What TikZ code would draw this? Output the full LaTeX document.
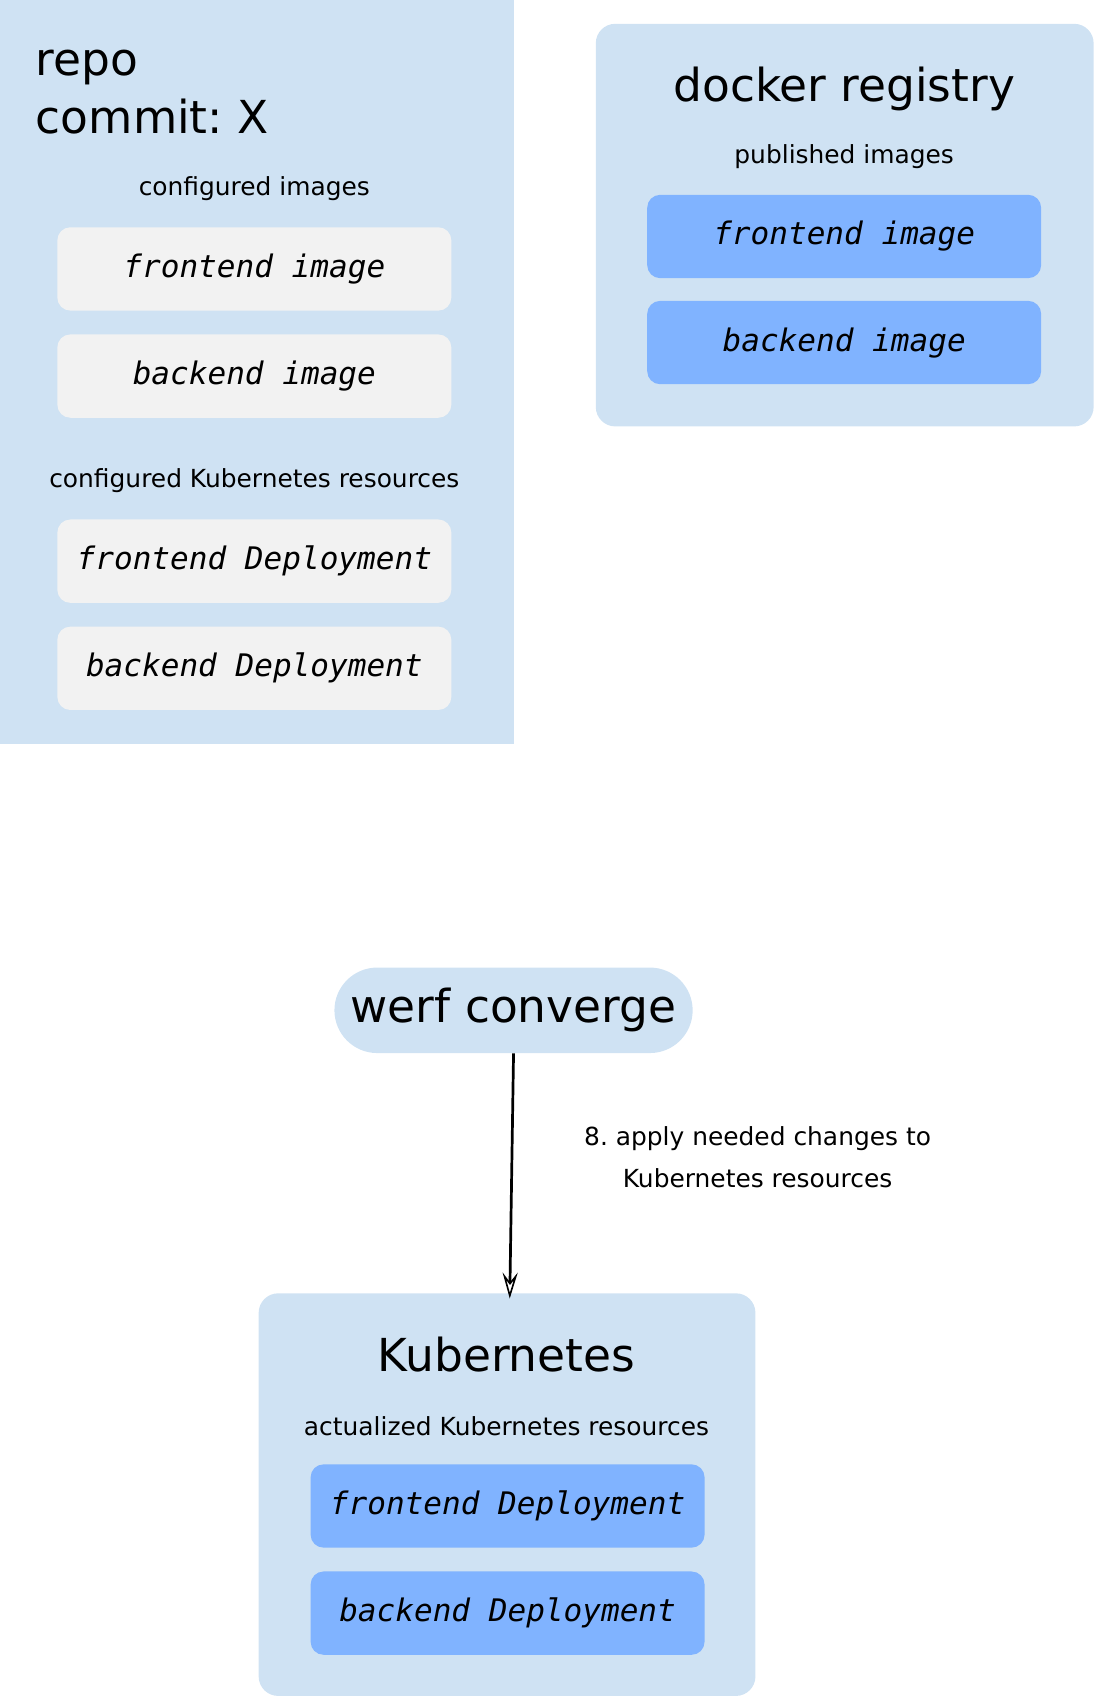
\documentclass[tikz,border=0pt]{standalone}
\usepackage{fontspec}
\setmainfont{DejaVu Sans}
\setmonofont{DejaVu Sans Mono}
\usepackage{tikz}
\usetikzlibrary{%
  arrows.meta%
}
\frenchspacing
\definecolor{panelblue}{HTML}{CFE2F3}
\definecolor{cfggray}{HTML}{F2F2F2}
\definecolor{pubblue}{HTML}{80B3FF}
\tikzset{>=latex,%
  panel/.style={fill=panelblue,rounded corners=18pt,inner sep=0pt},
  item/.style={rounded corners=12pt,minimum width=364pt,minimum height=77pt,
    inner sep=0pt,font=\fontsize{28.7}{34}\selectfont\ttfamily\itshape},
  cfgitem/.style={item,fill=cfggray},
  pubitem/.style={item,fill=pubblue},
  bigtext/.style={font=\fontsize{42}{53}\selectfont,inner sep=0pt},
  smalltext/.style={font=\fontsize{23}{39}\selectfont,inner sep=0pt}}

\begin{document}
\begin{tikzpicture}[x=1pt,y=-1pt]
      \useasboundingbox (0,0) rectangle (1011,1568);
      % repo
      \node[panel,sharp corners,minimum width=475pt,minimum height=687pt]
        (repo) at (237.5,343.5) {};
      \node[bigtext,anchor=base west] (reponame) at (33,70) {repo};
      \node[bigtext,anchor=base west] (commit) at (33,123) {commit: X};
      \node[smalltext] (cfgimages) at (235,174) {configured images};
      \node[cfgitem] (cfgfront) at (235,248.5) {frontend image};
      \node[cfgitem] (cfgback) at (235,347.5) {backend image};
      \node[smalltext] (cfgres) at (235,444) {configured Kubernetes resources};
      \node[cfgitem] (cfgfrontdep) at (235,518.5) {frontend Deployment};
      \node[cfgitem] (cfgbackdep) at (235,617.5) {backend Deployment};
      % docker registry
      \node[panel,minimum width=460pt,minimum height=372pt]
        (registry) at (780.5,208) {};
      \node[bigtext] (registryname) at (780,82) {docker registry};
      \node[smalltext] (pubimages) at (780,145) {published images};
      \node[pubitem] (pubfront) at (780,218.5) {frontend image};
      \node[pubitem] (pubback) at (780,316.5) {backend image};
      % werf converge
      \node[bigtext,fill=panelblue,rounded corners=39.5pt,minimum width=331pt,
        minimum height=79pt] (werf) at (474.5,933.5) {werf converge};
      % Kubernetes
      \node[panel,minimum width=459pt,minimum height=372pt]
        (k8s) at (468.5,1381) {};
      \node[bigtext] (k8sname) at (468,1252) {Kubernetes};
      \node[smalltext] (actres) at (468,1318) {actualized Kubernetes resources};
      \node[pubitem] (actfrontdep) at (469,1391.5) {frontend Deployment};
      \node[pubitem] (actbackdep) at (469,1490.5) {backend Deployment};
      % step 8
      \draw[line width=2.5pt,-{Stealth[open,length=24pt,width=14pt,inset=9pt,
        line width=1.5pt]}] (werf.south) -- ([xshift=2.5pt,yshift=-5pt]k8s.north);
      \node[smalltext,align=center] (applylabel) at (700,1069)
        {8. apply needed changes to\\Kubernetes resources};
    \end{tikzpicture}
\end{document}
